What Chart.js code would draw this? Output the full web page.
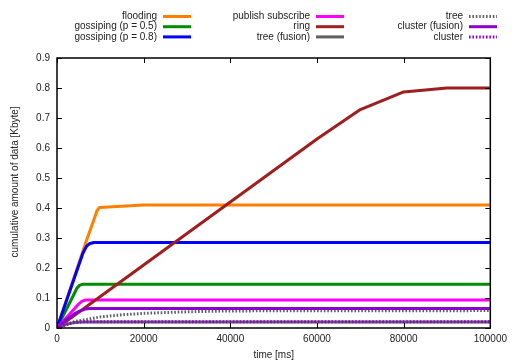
<!DOCTYPE html>
<html>
<head>
<meta charset="utf-8">
<script src="https://cdn.jsdelivr.net/npm/chart.js@4/dist/chart.umd.min.js"></script>
<style>
  html, body { margin: 0; padding: 0; background: #fff; }
  #wrap { width: 512px; height: 361px; }
</style>
</head>
<body>
<div id="wrap"><canvas id="lineChart" width="512" height="361"></canvas></div>
<script>
// series data (time in ms, amount in Kbyte)
const floodingT = [0, 7000, 8500, 9200, 9800, 20000, 100000];
const floodingV = [0, 0.3, 0.36, 0.39, 0.402, 0.41, 0.41];

const goss05T = [0, 4000, 4600, 5200, 6000, 100000];
const goss05V = [0, 0.115, 0.133, 0.142, 0.146, 0.146];

const goss08T = [0, 6000, 6800, 7500, 8500, 100000];
const goss08V = [0, 0.25, 0.272, 0.281, 0.285, 0.285];

const pubsubT = [0, 5000, 5700, 6500, 100000];
const pubsubV = [0, 0.08, 0.089, 0.093, 0.093];

const ringT = [0, 10000, 20000, 30000, 40000, 50000, 60000, 70000, 80000, 90000, 100000];
const ringV = [0, 0.105, 0.21, 0.315, 0.42, 0.525, 0.63, 0.728, 0.787, 0.8, 0.8];

const treeFusionT = [0, 2000, 4000, 6000, 100000];
const treeFusionV = [0, 0.012, 0.018, 0.02, 0.02];

const treeT = [0, 4000, 10000, 15000, 20000, 30000, 40000, 100000];
const treeV = [0, 0.021, 0.037, 0.044, 0.049, 0.054, 0.057, 0.058];

const clusterFusionT = [0, 2000, 4000, 5500, 6500, 7500, 100000];
const clusterFusionV = [0, 0.027, 0.047, 0.058, 0.063, 0.065, 0.065];

const clusterT = [0, 2000, 4000, 6000, 100000];
const clusterV = [0, 0.012, 0.018, 0.021, 0.021];

const seriesLabels = ['flooding', 'gossiping (p = 0.5)', 'gossiping (p = 0.8)',
                      'publish subscribe', 'ring', 'tree (fusion)',
                      'tree', 'cluster (fusion)', 'cluster'];

const xTicks = ['0', '20000', '40000', '60000', '80000', '100000'];
const yTicks = ['0', '0.1', '0.2', '0.3', '0.4', '0.5', '0.6', '0.7', '0.8', '0.9'];

const FONT = '"Liberation Sans", Arial, Helvetica, sans-serif';

function pts(t, v) {
  return t.map((x, i) => ({ x: x, y: v[i] }));
}

const colors = ['#ff7f00', '#008c00', '#0000ff', '#ff00ff', '#a01e1e',
                '#606060', '#606060', '#8c00d0', '#9000d8'];
const dashed = [false, false, false, false, false, false, true, false, true];
const allData = [
  pts(floodingT, floodingV), pts(goss05T, goss05V), pts(goss08T, goss08V),
  pts(pubsubT, pubsubV), pts(ringT, ringV), pts(treeFusionT, treeFusionV),
  pts(treeT, treeV), pts(clusterFusionT, clusterFusionV), pts(clusterT, clusterV)
];

const datasets = seriesLabels.map((label, i) => ({
  label: label,
  data: allData[i],
  borderColor: colors[i],
  backgroundColor: colors[i],
  borderWidth: 3,
  borderDash: dashed[i] ? [1.6, 1.8] : [],
  borderCapStyle: 'butt',
  borderJoinStyle: 'round',
  pointRadius: 0,
  fill: false,
  tension: 0,
  order: seriesLabels.length - i   // later series on top, like gnuplot
}));

// frame, inward ticks, axis titles and the 3-column legend
const decor = {
  id: 'decor',
  afterDraw(chart) {
    const { ctx, chartArea: a, scales } = chart;
    ctx.save();
    ctx.strokeStyle = '#000';
    ctx.lineWidth = 1;
    xTicks.forEach(t => {
      const px = Math.round(scales.x.getPixelForValue(Number(t))) + 0.5;
      ctx.beginPath();
      ctx.moveTo(px, a.bottom); ctx.lineTo(px, a.bottom - 5);
      ctx.moveTo(px, a.top); ctx.lineTo(px, a.top + 5);
      ctx.stroke();
    });
    yTicks.forEach(t => {
      const py = Math.round(scales.y.getPixelForValue(Number(t))) + 0.5;
      ctx.beginPath();
      ctx.moveTo(a.left, py); ctx.lineTo(a.left + 5, py);
      ctx.moveTo(a.right, py); ctx.lineTo(a.right - 5, py);
      ctx.stroke();
    });
    ctx.lineWidth = 1.5;
    ctx.strokeRect(a.left, a.top, a.right - a.left, a.bottom - a.top);

    ctx.fillStyle = '#222';
    ctx.font = '10px ' + FONT;
    ctx.textAlign = 'center';
    ctx.textBaseline = 'middle';
    ctx.fillText('time [ms]', (a.left + a.right) / 2, 355);
    ctx.save();
    ctx.translate(15, 182);
    ctx.rotate(-Math.PI / 2);
    ctx.fillText('cumulative amount of data [Kbyte]', 0, 0);
    ctx.restore();

    const colRight = [157, 310, 463];
    chart.data.datasets.forEach((ds, i) => {
      const col = Math.floor(i / 3), row = i % 3;
      const y = 16.5 + row * 10.2;
      ctx.textAlign = 'right';
      ctx.fillStyle = '#222';
      ctx.fillText(ds.label, colRight[col], y);
      ctx.beginPath();
      ctx.strokeStyle = ds.borderColor;
      ctx.lineWidth = 3;
      ctx.setLineDash(ds.borderDash);
      ctx.moveTo(colRight[col] + 6, y);
      ctx.lineTo(colRight[col] + 34, y);
      ctx.stroke();
      ctx.setLineDash([]);
    });
    ctx.restore();
  }
};

new Chart(document.getElementById('lineChart'), {
  type: 'line',
  data: { datasets: datasets },
  options: {
    responsive: false,
    animation: false,
    layout: { padding: { top: 58, right: 21, left: 0, bottom: 0 } },
    plugins: { legend: { display: false }, tooltip: { enabled: false } },
    scales: {
      x: {
        type: 'linear',
        min: 0, max: 100000,
        afterFit(s) { s.height = 33; },
        afterBuildTicks(s) { s.ticks = xTicks.map(t => ({ value: Number(t) })); },
        ticks: {
          padding: 5, color: '#222', maxRotation: 0,
          font: { size: 10, family: FONT },
          callback: (v, i) => xTicks[i]
        },
        grid: { display: false, drawTicks: false },
        border: { display: false }
      },
      y: {
        min: 0, max: 0.9,
        afterFit(s) { s.width = 57; },
        afterBuildTicks(s) { s.ticks = yTicks.map(t => ({ value: Number(t) })); },
        ticks: {
          padding: 7, color: '#222',
          font: { size: 10, family: FONT },
          callback: (v, i) => yTicks[i]
        },
        grid: { display: false, drawTicks: false },
        border: { display: false }
      }
    }
  },
  plugins: [decor]
});
</script>
</body>
</html>
